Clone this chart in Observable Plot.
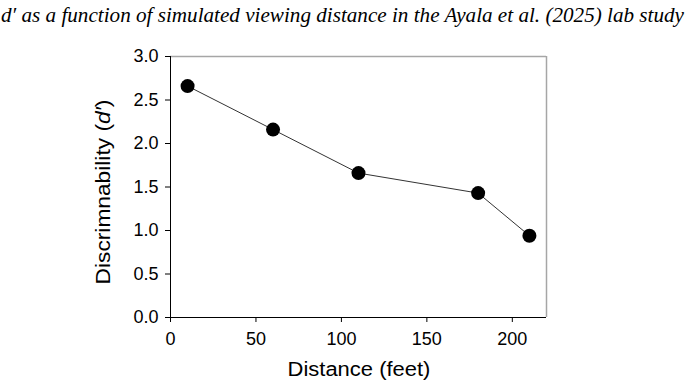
<!DOCTYPE html>
<html><head><meta charset="utf-8">
<script src="https://cdn.jsdelivr.net/npm/d3@7"></script>
<script src="https://cdn.jsdelivr.net/npm/@observablehq/plot@0.6"></script>
<style>
body{margin:0;background:#fff;width:685px;height:384px;overflow:hidden}
#title{height:40px;position:relative;overflow:hidden;font-family:"Liberation Serif","Times New Roman",serif;font-style:italic;font-size:22px;color:#000}
#title span{position:absolute;left:1px;top:4px;white-space:nowrap;transform-origin:0 0;line-height:1}
#chart svg{display:block}
#chart svg g[aria-label="x-axis tick label"], #chart svg g[aria-label="y-axis tick label"]{font-size:18px}
</style></head><body>
<div id="title"><span>d′ as a function of simulated viewing distance in the Ayala et al. (2025) lab study</span></div>
<div id="chart"></div>
<script>
const distance = [10, 60, 110, 180, 210];
const dprime = [2.66, 2.16, 1.66, 1.43, 0.94];
const xTicks = [0, 50, 100, 150, 200];
const yTicks = [0, 0.5, 1, 1.5, 2, 2.5, 3];
const xDomain = [0, 220];
const yDomain = [0, 3];
const xLabel = "Distance (feet)";
const yLabelMain = "Discrimnability (";
const yLabelItalic = "d′";
const yLabelEnd = ")";

const data = distance.map((d, i) => ({distance: d, dprime: dprime[i]}));

const plot = Plot.plot({
  width: 685, height: 344,
  marginLeft: 170, marginRight: 139, marginTop: 16, marginBottom: 67,
  style: {fontFamily: "'Liberation Sans', Arial, sans-serif", background: "#fff", color: "#000"},
  x: {domain: xDomain},
  y: {domain: yDomain},
  marks: [
    Plot.axisX({ticks: xTicks, tickSize: 5, tickPadding: 10, fontSize: 18, label: null, tickFormat: d => String(d)}),
    Plot.axisY({ticks: yTicks, tickSize: 5, tickPadding: 7, fontSize: 18, label: null, tickFormat: d3.format(".1f")}),
    Plot.ruleY([yDomain[1]], {stroke: "#a6a6a6", strokeWidth: 1.5}),
    Plot.ruleX([xDomain[1]], {stroke: "#a6a6a6", strokeWidth: 1.5}),
    Plot.ruleX([xDomain[0]], {stroke: "#000"}),
    Plot.ruleY([yDomain[0]], {stroke: "#000"}),
    Plot.line(data, {x: "distance", y: "dprime", stroke: "#333", strokeWidth: 1}),
    Plot.dot(data, {x: "distance", y: "dprime", r: 7, fill: "#000", stroke: "none"})
  ]
});
document.getElementById("chart").appendChild(plot);

const svg = d3.select(plot);
// x axis label
const xl = svg.append("text")
  .attr("text-anchor", "middle")
  .attr("font-size", 20)
  .attr("fill", "#000")
  .text(xLabel);
const xs = 143 / xl.node().getComputedTextLength();
xl.attr("transform", `translate(359,335.5) scale(${xs},1)`);

// y axis label
const yl = svg.append("text")
  .attr("text-anchor", "middle")
  .attr("font-size", 20)
  .attr("fill", "#000");
yl.append("tspan").text(yLabelMain);
yl.append("tspan").attr("font-style", "italic").text(yLabelItalic);
yl.append("tspan").text(yLabelEnd);
const ys = 185 / yl.node().getComputedTextLength();
yl.attr("transform", `translate(110,152) rotate(-90) scale(${ys},1)`);

// title fit
const span = document.querySelector("#title span");
const w = span.getBoundingClientRect().width;
span.style.transform = `scaleX(${683 / w})`;
</script>
</body></html>
